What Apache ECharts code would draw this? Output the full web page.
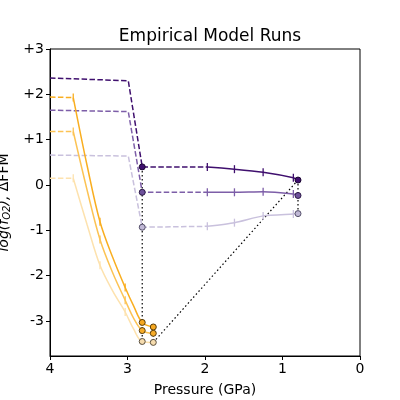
<!DOCTYPE html>
<html>
<head>
	<meta charset="utf-8"/>
	<title>Empirical Model Runs</title>
	<style>
		* { margin: 0; padding: 0; }
		html, body { width: 400px; height: 400px; background: #fff; }
		#main { width: 400px; height: 400px; }
	</style>
</head>
<body>
	<div id="main"></div>
	<script src="https://cdn.jsdelivr.net/npm/echarts@6/dist/echarts.min.js"></script>
	<script>
		// pressure (GPa) and log fO2 (dFFM)
		var yTicks = [-3, -2, -1, 0, 1, 2, 3];

		var purpleDashP = [4.0, 2.99, 2.81, 1.97];
		var purpleDashMark = ['none', 'none', 'dot', 'none'];
		var purpleSolidP = [1.97, 1.62, 1.25, 0.86, 0.80];
		var purpleSolidMark = ['tick', 'tick', 'tick', 'tick', 'dot'];

		var purpleDarkDash = [2.36, 2.30, 0.40, 0.40];
		var purpleDarkSolid = [0.40, 0.35, 0.28, 0.16, 0.11];
		var purpleMidDash = [1.65, 1.62, -0.16, -0.16];
		var purpleMidSolid = [-0.16, -0.16, -0.15, -0.20, -0.23];
		var purpleLightDash = [0.66, 0.64, -0.93, -0.91];
		var purpleLightSolid = [-0.91, -0.83, -0.68, -0.64, -0.63];

		var orangeDashP = [4.0, 3.70];
		var orangeP = [3.70, 3.52, 3.355, 3.19, 3.03, 2.92, 2.81, 2.667];
		var orangeMark = ['tick', 'none', 'tick', 'none', 'tick', 'none', 'dot', 'dot'];

		var orangeDarkDash = [1.94, 1.93];
		var orangeDark = [1.93, 0.42, -0.81, -1.60, -2.26, -2.67, -3.03, -3.13];
		var orangeMidDash = [1.18, 1.18];
		var orangeMid = [1.18, -0.12, -1.20, -1.94, -2.54, -2.94, -3.21, -3.27];
		var orangeLightDash = [0.15, 0.15];
		var orangeLight = [0.15, -0.88, -1.77, -2.34, -2.80, -3.18, -3.45, -3.47];

		var font = 'DejaVu Sans';
		var myChart = echarts.init(document.getElementById('main'));

		function pts(xs, ys, marks, col, dotFill, dotEdge) {
			return xs.map(function (x, i) {
				var m = marks ? marks[i] : 'none';
				var item = { value: [x, ys[i]] };
				if (m === 'tick') {
					item.symbol = 'rect';
					item.symbolSize = [1.3, 8];
					item.itemStyle = { color: col };
				} else if (m === 'dot') {
					item.symbol = 'circle';
					item.symbolSize = 6;
					item.itemStyle = { color: dotFill, borderColor: dotEdge, borderWidth: 1 };
				} else {
					item.symbol = 'none';
				}
				return item;
			});
		}

		function run(name, dashX, dashY, dashMarks, solidX, solidY, solidMarks, col, dotFill, dotEdge, smooth) {
			return [{
				type: 'line', name: name + ' dash',
				data: pts(dashX, dashY, dashMarks, col, dotFill, dotEdge),
				showSymbol: true, z: 3,
				lineStyle: { color: col, width: 1.5, type: [5.5, 2.4] },
				itemStyle: { color: col },
				animation: false
			}, {
				type: 'line', name: name,
				data: pts(solidX, solidY, solidMarks, col, dotFill, dotEdge),
				showSymbol: true, z: 3,
				smooth: smooth,
				lineStyle: { color: col, width: 1.5 },
				itemStyle: { color: col },
				animation: false
			}];
		}

		function dotted(a, b) {
			return {
				type: 'line',
				data: [a, b],
				symbol: 'none', z: 2,
				lineStyle: { color: '#000', width: 1.2, type: [1.5, 2.5] },
				animation: false
			};
		}

		var series = [];
		// dotted connectors first (drawn under the dots)
		series.push(dotted([2.81, purpleDarkDash[2]], [2.81, orangeLight[6]]));
		series.push(dotted([2.667, orangeDark[7]], [2.667, orangeLight[7]]));
		series.push(dotted([2.667, orangeLight[7]], [0.80, purpleDarkSolid[4]]));
		series.push(dotted([0.80, purpleDarkSolid[4]], [0.80, purpleLightSolid[4]]));

		series = series.concat(
			run('pl', purpleDashP, purpleLightDash, purpleDashMark, purpleSolidP, purpleLightSolid, purpleSolidMark, '#c9c1dd', '#c0b8d6', '#55506a', 0.2),
			run('pm', purpleDashP, purpleMidDash, purpleDashMark, purpleSolidP, purpleMidSolid, purpleSolidMark, '#7d5ea8', '#6e519b', '#2c1947', 0.2),
			run('pd', purpleDashP, purpleDarkDash, purpleDashMark, purpleSolidP, purpleDarkSolid, purpleSolidMark, '#3f0f6e', '#3f0f6e', '#1c0733', 0.2),
			run('ol', orangeDashP, orangeLightDash, null, orangeP, orangeLight, orangeMark, '#fde2ae', '#f6dcae', '#5a5040', 0.35),
			run('om', orangeDashP, orangeMidDash, null, orangeP, orangeMid, orangeMark, '#fcc354', '#f7ac2a', '#5a4010', 0.35),
			run('od', orangeDashP, orangeDarkDash, null, orangeP, orangeDark, orangeMark, '#f9ae20', '#f6a820', '#5a3c08', 0.35)
		);

		var option = {
			backgroundColor: '#fff',
			animation: false,
			title: {
				text: 'Empirical Model Runs',
				left: 205, top: 23,
				textAlign: 'center',
				textStyle: { fontFamily: font, fontSize: 17, fontWeight: 'normal', color: '#000' }
			},
			grid: {
				left: 50, right: 40, top: 49, bottom: 44,
				containLabel: false, outerBoundsMode: 'none',
				show: true, borderColor: '#000', borderWidth: 1
			},
			xAxis: {
				type: 'value', inverse: true,
				min: 0, max: 4, interval: 1,
				name: 'Pressure (GPa)',
				nameLocation: 'middle', nameGap: 27,
				nameTextStyle: { fontFamily: font, fontSize: 14, color: '#000' },
				axisLine: { onZero: false, lineStyle: { color: '#000', width: 1 } },
				axisTick: { length: 4, lineStyle: { color: '#000' } },
				axisLabel: { fontFamily: font, fontSize: 14, color: '#000', margin: 6 },
				splitLine: { show: false }
			},
			yAxis: {
				type: 'value',
				min: -3.77, max: 3,
				name: '{i|log(f}{s|O2}{i|),} {n|ΔFFM}',
				nameLocation: 'middle', nameGap: 36, nameRotate: 90,
				nameTextStyle: {
					fontFamily: font, fontSize: 14, color: '#000',
					rich: {
						i: { fontFamily: font, fontSize: 14, fontStyle: 'italic', color: '#000' },
						s: { fontFamily: font, fontSize: 10, fontStyle: 'italic', color: '#000', verticalAlign: 'bottom', padding: [6, 0, 0, 0] },
						n: { fontFamily: font, fontSize: 14, color: '#000' }
					}
				},
				axisLine: { show: true, onZero: false, lineStyle: { color: '#000', width: 1 } },
				axisTick: { show: true, length: 4, customValues: yTicks, lineStyle: { color: '#000' } },
				axisLabel: {
					fontFamily: font, fontSize: 14, color: '#000', margin: 6,
					customValues: yTicks,
					formatter: function (v) { return v > 0 ? '+' + v : String(v); }
				},
				splitLine: { show: false }
			},
			series: series
		};

		myChart.setOption(option);
	</script>
</body>
</html>
